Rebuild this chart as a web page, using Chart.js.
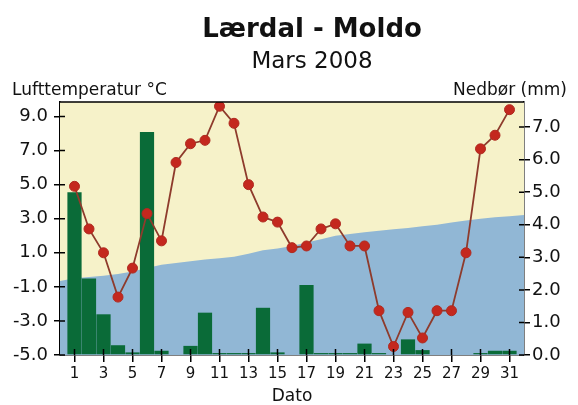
<!DOCTYPE html>
<html>
<head>
<meta charset="utf-8">
<script src="https://cdn.jsdelivr.net/npm/chart.js@4"></script>
<style>
  html, body { margin: 0; padding: 0; background: #fff; }
  canvas { display: block; }
</style>
</head>
<body>
<canvas id="myChart" width="578" height="405"></canvas>
<script>
  const days = [1, 2, 3, 4, 5, 6, 7, 8, 9, 10, 11, 12, 13, 14, 15, 16,
    17, 18, 19, 20, 21, 22, 23, 24, 25, 26, 27, 28, 29, 30, 31];

  // Lufttemperatur (°C), left axis
  const temperature = [4.9, 2.4, 1.0, -1.6, 0.1, 3.3, 1.7, 6.3, 7.4, 7.6, 9.6,
    8.6, 5.0, 3.1, 2.8, 1.3, 1.4, 2.4, 2.7, 1.4, 1.4, -2.4, -4.5, -2.5, -4.0,
    -2.4, -2.4, 1.0, 7.1, 7.9, 9.4];

  // Nedbør (mm), right axis
  const precipitation = [5.0, 2.35, 1.25, 0.3, 0.08, 6.85, 0.13, 0, 0.28, 1.3,
    0.06, 0.06, 0.06, 1.45, 0.08, 0, 2.15, 0.06, 0.06, 0.06, 0.35, 0.06, 0,
    0.48, 0.15, 0, 0, 0, 0.06, 0.13, 0.13];

  // normal temperature (blue area), day 0 .. day 32
  const normalDays = [0, 1, 2, 3, 4, 5, 6, 7, 8, 9, 10, 11, 12, 13, 14, 15, 16,
    17, 18, 19, 20, 21, 22, 23, 24, 25, 26, 27, 28, 29, 30, 31, 32];
  const normalTemperature = [-0.65, -0.5, -0.42, -0.35, -0.25, -0.1, 0.1, 0.3,
    0.4, 0.5, 0.6, 0.68, 0.77, 0.95, 1.15, 1.25, 1.4, 1.6, 1.8, 2.0, 2.1, 2.2,
    2.3, 2.38, 2.45, 2.55, 2.65, 2.78, 2.9, 3.0, 3.08, 3.15, 3.22];

  const xTicks = [1, 3, 5, 7, 9, 11, 13, 15, 17, 19, 21, 23, 25, 27, 29, 31];
  const tempTicks = [-5, -3, -1, 1, 3, 5, 7, 9];
  const precipTicks = [0, 1, 2, 3, 4, 5, 6, 7];

  const title = 'Lærdal - Moldo';
  const subtitle = 'Mars 2008';
  const leftTitle = 'Lufttemperatur °C';
  const rightTitle = 'Nedbør (mm)';

  const FONT = "'DejaVu Sans', sans-serif";
  Chart.defaults.font.family = FONT;
  Chart.defaults.color = '#111';

  const frame = {
    id: 'frame',
    beforeDatasetsDraw(chart) {
      const {ctx, chartArea: a} = chart;
      ctx.save();
      ctx.fillStyle = '#f6f2c9';
      ctx.fillRect(a.left, a.top, a.right - a.left, a.bottom - a.top);
      ctx.restore();
    },
    afterDraw(chart) {
      const {ctx, chartArea: a, scales} = chart;
      ctx.save();
      ctx.strokeStyle = '#000';
      ctx.lineWidth = 1.5;
      ctx.beginPath();
      ctx.moveTo(a.left, a.top);
      ctx.lineTo(a.right, a.top);
      // inner half of the tick marks
      scales.x.ticks.forEach(t => {
        const px = scales.x.getPixelForValue(t.value);
        ctx.moveTo(px, a.bottom);
        ctx.lineTo(px, a.bottom - 6);
      });
      scales.y.ticks.forEach(t => {
        const py = scales.y.getPixelForValue(t.value);
        ctx.moveTo(a.left, py);
        ctx.lineTo(a.left + 5, py);
      });
      scales.y2.ticks.forEach(t => {
        const py = scales.y2.getPixelForValue(t.value);
        ctx.moveTo(a.right, py);
        ctx.lineTo(a.right - 5, py);
      });
      ctx.stroke();

      ctx.fillStyle = '#111';
      ctx.textBaseline = 'alphabetic';
      ctx.textAlign = 'center';
      ctx.font = 'bold 26px ' + FONT;
      ctx.fillText(title, 312, 37);
      ctx.font = '23px ' + FONT;
      ctx.fillText(subtitle, 312, 68);
      ctx.font = '17px ' + FONT;
      ctx.textAlign = 'left';
      ctx.fillText(leftTitle, 12, 95);
      ctx.textAlign = 'right';
      ctx.fillText(rightTitle, 567, 95);
      ctx.restore();
    }
  };

  const data = {
    datasets: [{
      type: 'line',
      label: 'Temperatur',
      data: days.map((d, i) => ({x: d, y: temperature[i]})),
      yAxisID: 'y',
      borderColor: '#8e3b2c',
      borderWidth: 1.8,
      backgroundColor: '#c4281e',
      pointBackgroundColor: '#c4281e',
      pointBorderColor: '#b02a20',
      pointBorderWidth: 1,
      pointRadius: 5,
      tension: 0,
      order: 1
    }, {
      type: 'bar',
      label: 'Nedbør',
      data: days.map((d, i) => ({x: d, y: precipitation[i]})),
      yAxisID: 'y2',
      backgroundColor: '#0a6b38',
      barPercentage: 0.98,
      categoryPercentage: 1,
      order: 2
    }, {
      type: 'line',
      label: 'Normal',
      data: normalDays.map((d, i) => ({x: d, y: normalTemperature[i]})),
      yAxisID: 'y',
      borderWidth: 0,
      pointRadius: 0,
      backgroundColor: '#91b7d5',
      fill: 'start',
      tension: 0,
      order: 3
    }]
  };

  const config = {
    data: data,
    plugins: [frame],
    options: {
      responsive: false,
      animation: false,
      events: [],
      layout: {
        padding: {top: 102, left: 0, right: 0, bottom: 0}
      },
      plugins: {
        legend: {display: false},
        tooltip: {enabled: false}
      },
      scales: {
        x: {
          type: 'linear',
          min: 0,
          max: 32,
          offset: false,
          afterBuildTicks: (axis) => { axis.ticks = xTicks.map(v => ({value: v})); },
          afterFit: (axis) => { axis.height = 50; },
          grid: {
            drawOnChartArea: false,
            offset: false,
            color: '#000',
            lineWidth: 1.5,
            tickLength: 7
          },
          border: {color: '#000', width: 1.5},
          ticks: {
            font: {size: 15},
            padding: 3,
            maxRotation: 0,
            autoSkip: false,
            callback: (v) => String(v)
          },
          title: {
            display: true,
            text: 'Dato',
            font: {size: 17, lineHeight: 1},
            padding: {top: 0, bottom: 0}
          }
        },
        y: {
          position: 'left',
          min: -5,
          max: 9.85,
          afterBuildTicks: (axis) => { axis.ticks = tempTicks.map(v => ({value: v})); },
          afterFit: (axis) => { axis.width = 60; },
          grid: {
            drawOnChartArea: false,
            color: '#000',
            lineWidth: 1.5,
            tickLength: 6
          },
          border: {color: '#000', width: 1.5},
          ticks: {
            font: {size: 18},
            padding: 6,
            callback: (v) => v.toFixed(1)
          }
        },
        y2: {
          position: 'right',
          min: 0,
          max: 7.77,
          afterBuildTicks: (axis) => { axis.ticks = precipTicks.map(v => ({value: v})); },
          afterFit: (axis) => { axis.width = 54; },
          grid: {
            drawOnChartArea: false,
            color: '#000',
            lineWidth: 1.5,
            tickLength: 6
          },
          border: {color: '#000', width: 1.5},
          ticks: {
            font: {size: 18},
            padding: 2,
            callback: (v) => v.toFixed(1)
          }
        }
      }
    }
  };

  const myChart = new Chart(
    document.getElementById('myChart'),
    config
  );
</script>
</body>
</html>
